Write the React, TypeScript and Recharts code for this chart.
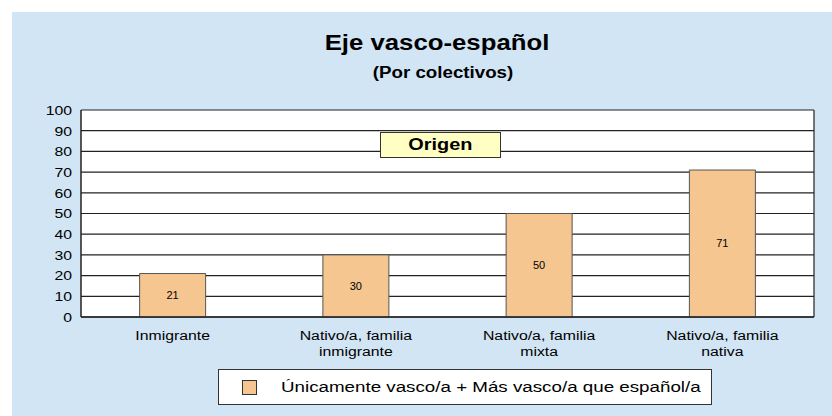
import React from 'react';
import { BarChart, Bar, XAxis, YAxis, CartesianGrid, LabelList, Legend } from 'recharts';

const categories = [
  ['Inmigrante'],
  ['Nativo/a, familia', 'inmigrante'],
  ['Nativo/a, familia', 'mixta'],
  ['Nativo/a, familia', 'nativa'],
];
const values = [21, 30, 50, 71];
const yTicks = [0, 10, 20, 30, 40, 50, 60, 70, 80, 90, 100];
const seriesName = 'Únicamente vasco/a + Más vasco/a que español/a';

const data = categories.map((c, i) => ({ name: c.join(' '), value: values[i] }));

const FONT = '"Liberation Sans", Arial, sans-serif';
const BAR_FILL = '#F5C690';
// the source image is a bit stretched sideways, so text is widened to match
const SX = 1.17;

const CategoryTick = ({ x, y, payload, index }: any) => {
  const lines = categories[index] || [payload.value];
  return (
    <g transform={`translate(${x},${y}) scale(${SX},1)`}>
      {lines.map((l: string, i: number) => (
        <text key={i} x={0} y={15 + i * 16} textAnchor="middle" fontSize={13.5} fill="#000" fontFamily={FONT}>
          {l}
        </text>
      ))}
    </g>
  );
};

const ValueTick = ({ x, y, payload }: any) => (
  <g transform={`translate(${x},${y}) scale(${SX},1)`}>
    <text x={0} y={0} dy="0.36em" textAnchor="end" fontSize={13.5} fill="#000" fontFamily={FONT}>
      {payload.value}
    </text>
  </g>
);

const LegendBox = () => (
  <div
    style={{
      width: 492,
      height: 34,
      background: '#fff',
      border: '1px solid #333',
      display: 'flex',
      alignItems: 'center',
      fontFamily: FONT,
      fontSize: 15.5,
      color: '#000',
    }}
  >
    <div style={{ width: 13, height: 13, background: BAR_FILL, border: '1px solid #333', marginLeft: 23, marginRight: 24, flexShrink: 0 }} />
    <span style={{ display: 'inline-block', transform: 'scaleX(1.21)', transformOrigin: 'left center', whiteSpace: 'nowrap' }}>
      {seriesName}
    </span>
  </div>
);

const centered = (top: number, size: number, text: string, cx: number) => (
  <div
    style={{
      position: 'absolute',
      left: cx - 300,
      top,
      width: 600,
      textAlign: 'center',
      fontFamily: FONT,
      fontWeight: 'bold',
      fontSize: size,
      color: '#000',
      transform: `scaleX(${SX})`,
      whiteSpace: 'nowrap',
    }}
  >
    {text}
  </div>
);

export default function App() {
  return (
    <div style={{ position: 'absolute', left: 0, top: 0, width: 832, height: 416, background: '#fff', overflow: 'hidden' }}>
      <div style={{ position: 'absolute', left: 12, top: 12, width: 820, height: 404, background: '#D2E5F4' }} />
      <div style={{ position: 'absolute', left: 12, top: 0, width: 820, height: 416 }}>
        <BarChart
          width={820}
          height={416}
          data={data}
          margin={{ top: 110, right: 18, bottom: 13, left: 39 }}
          barCategoryGap="32%"
        >
          <CartesianGrid
            fill="#fff"
            stroke="#222"
            strokeWidth={1.2}
            verticalCoordinatesGenerator={({ offset }: any) => [offset.left + offset.width]}
          />
          <XAxis
            dataKey="name"
            height={50}
            interval={0}
            tick={<CategoryTick />}
            tickLine={false}
            axisLine={{ stroke: '#222', strokeWidth: 1.5 }}
          />
          <YAxis
            width={30}
            domain={[0, 100]}
            ticks={yTicks}
            interval={0}
            tickLine={false}
            axisLine={{ stroke: '#222', strokeWidth: 1.5 }}
            tick={<ValueTick />}
            tickMargin={3}
          />
          <Legend content={<LegendBox />} wrapperStyle={{ left: 206, top: 369, width: 494 }} />
          <Bar dataKey="value" name={seriesName} fill={BAR_FILL} stroke="#555" strokeWidth={1} isAnimationActive={false}>
            <LabelList dataKey="value" position="center" fontSize={11} fill="#000" fontFamily={FONT} />
          </Bar>
        </BarChart>
      </div>
      {centered(30, 22, 'Eje vasco-español', 437)}
      {centered(64, 16, '(Por colectivos)', 443)}
      <div
        style={{
          position: 'absolute',
          left: 380,
          top: 132,
          width: 119,
          height: 24,
          background: '#FFFFC4',
          border: '1px solid #333',
          textAlign: 'center',
          lineHeight: '24px',
          fontFamily: FONT,
          fontWeight: 'bold',
          fontSize: 17,
          color: '#000',
        }}
      >
        <span style={{ display: 'inline-block', transform: `scaleX(${SX})` }}>Origen</span>
      </div>
    </div>
  );
}
